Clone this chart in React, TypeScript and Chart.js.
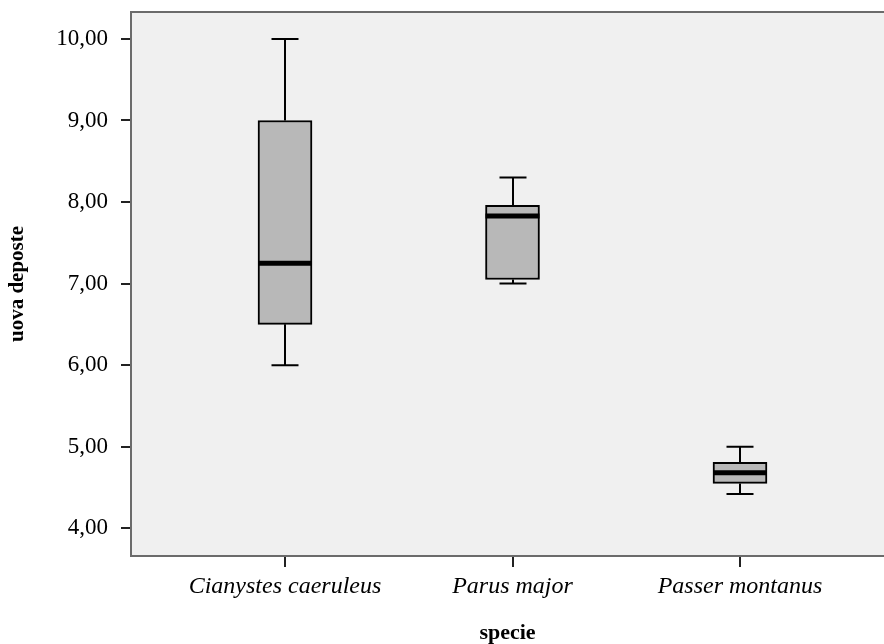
import React, { useEffect, useRef } from "react";
import { Chart, registerables } from "chart.js";

Chart.register(...registerables);

const categories = ["Cianystes caeruleus", "Parus major", "Passer montanus"];
const whiskerLow = [6.0, 7.0, 4.42];
const q1 = [6.5, 7.05, 4.55];
const median = [7.25, 7.83, 4.68];
const q3 = [9.0, 7.96, 4.81];
const whiskerHigh = [10.0, 8.3, 5.0];
const yTicks = [4, 5, 6, 7, 8, 9, 10];

const FONT = "'Liberation Serif', 'Times New Roman', serif";

const boxPlugin = {
  id: "boxExtras",
  beforeDraw(chart: any) {
    const { ctx, chartArea } = chart;
    ctx.save();
    ctx.fillStyle = "#f0f0f0";
    ctx.fillRect(chartArea.left, chartArea.top, chartArea.right - chartArea.left, chartArea.bottom - chartArea.top);
    ctx.restore();
  },
  beforeDatasetsDraw(chart: any) {
    const { ctx } = chart;
    const xs = chart.scales.x;
    const ys = chart.scales.y;
    ctx.save();
    ctx.strokeStyle = "#000";
    ctx.lineWidth = 2;
    for (let i = 0; i < categories.length; i++) {
      const x = Math.round(xs.getPixelForValue(i + 1));
      const half = 13.5;
      const yHi = ys.getPixelForValue(whiskerHigh[i]);
      const yQ3 = ys.getPixelForValue(q3[i]);
      const yQ1 = ys.getPixelForValue(q1[i]);
      const yLo = ys.getPixelForValue(whiskerLow[i]);
      ctx.beginPath();
      ctx.moveTo(x, yHi);
      ctx.lineTo(x, yQ3);
      ctx.moveTo(x, yQ1);
      ctx.lineTo(x, yLo);
      ctx.moveTo(x - half, yHi);
      ctx.lineTo(x + half, yHi);
      ctx.moveTo(x - half, yLo);
      ctx.lineTo(x + half, yLo);
      ctx.stroke();
    }
    ctx.restore();
  },
  afterDatasetsDraw(chart: any) {
    const { ctx } = chart;
    const xs = chart.scales.x;
    const ys = chart.scales.y;
    ctx.save();
    ctx.strokeStyle = "#000";
    ctx.lineWidth = 5;
    for (let i = 0; i < categories.length; i++) {
      const x = xs.getPixelForValue(i + 1);
      const y = ys.getPixelForValue(median[i]);
      ctx.beginPath();
      ctx.moveTo(x - 27, y);
      ctx.lineTo(x + 27, y);
      ctx.stroke();
    }
    ctx.restore();
  },
  afterDraw(chart: any) {
    const { ctx, chartArea } = chart;
    ctx.save();
    ctx.strokeStyle = "#6b6b6b";
    ctx.lineWidth = 2;
    ctx.beginPath();
    ctx.moveTo(chartArea.right + 2, chartArea.top);
    ctx.lineTo(chartArea.left, chartArea.top);
    ctx.lineTo(chartArea.left, chartArea.bottom);
    ctx.lineTo(chartArea.right + 2, chartArea.bottom);
    ctx.stroke();
    ctx.restore();
  },
};

export default function App() {
  const ref = useRef<HTMLCanvasElement>(null);
  useEffect(() => {
    if (!ref.current) return;
    const chart = new Chart(ref.current, {
      type: "bar",
      data: {
        datasets: [
          {
            data: categories.map((_, i) => ({ x: i + 1, y: [q1[i], q3[i]] })) as any,
            backgroundColor: "#b8b8b8",
            borderColor: "#000",
            borderWidth: 2,
            borderSkipped: false,
            barThickness: 54,
          },
        ],
      },
      options: {
        responsive: false,
        animation: false,
        events: [],
        layout: { padding: { top: 12, left: 0, right: 0, bottom: 0 } },
        plugins: { legend: { display: false }, tooltip: { enabled: false } },
        scales: {
          x: {
            type: "linear",
            offset: false,
            min: 0.323,
            max: 3.633,
            afterBuildTicks: (s: any) => {
              s.ticks = categories.map((_, i) => ({ value: i + 1 }));
            },
            afterFit: (s: any) => {
              s.height = 88;
              s.paddingLeft = 0;
              s.paddingRight = 0;
            },
            grid: { offset: false, drawOnChartArea: false, drawTicks: true, tickLength: 11, tickColor: "#222", lineWidth: 2 },
            border: { display: false },
            ticks: {
              autoSkip: false,
              maxRotation: 0,
              padding: 5,
              color: "#000",
              font: { family: FONT, size: 24, style: "italic" },
              callback: (v: any) => categories[Math.round(v) - 1] ?? "",
            },
            title: {
              display: true,
              text: "specie",
              color: "#000",
              font: { family: FONT, size: 22, weight: "bold", lineHeight: 1 },
              padding: { top: 1, bottom: 0 },
            },
          },
          y: {
            type: "linear",
            min: 3.66,
            max: 10.33,
            afterBuildTicks: (s: any) => {
              s.ticks = yTicks.map((v) => ({ value: v }));
            },
            afterFit: (s: any) => {
              s.width = 131;
              s.paddingTop = 0;
              s.paddingBottom = 0;
            },
            grid: { drawOnChartArea: false, drawTicks: true, tickLength: 10, tickColor: "#222", lineWidth: 2 },
            border: { display: false },
            ticks: {
              padding: 13,
              color: "#000",
              font: { family: FONT, size: 23 },
              callback: (v: any) => Number(v).toFixed(2).replace(".", ","),
            },
            title: {
              display: true,
              text: "uova deposte",
              color: "#000",
              font: { family: FONT, size: 21, weight: "bold", lineHeight: 1 },
              padding: { top: 7, bottom: 0 },
            },
          },
        },
      },
      plugins: [boxPlugin],
    });
    return () => chart.destroy();
  }, []);
  return (
    <div style={{ position: "absolute", left: 0, top: 0, width: 884, height: 644, background: "#fff" }}>
      <canvas ref={ref} width={884} height={644} style={{ width: 884, height: 644 }} />
    </div>
  );
}
